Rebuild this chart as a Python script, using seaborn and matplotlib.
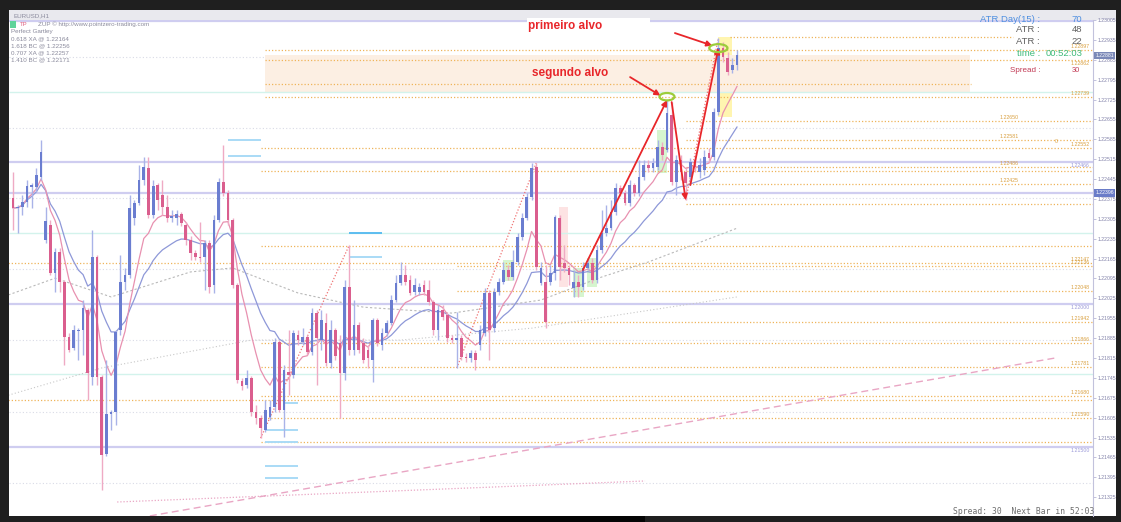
import numpy as np
import pandas as pd
import seaborn as sns
import matplotlib.pyplot as plt
from matplotlib.patches import Rectangle, Ellipse
from matplotlib.transforms import blended_transform_factory

W, H = 1121, 522

# EURUSD H1 candles
opens = [1.22378, 1.22343, 1.22346, 1.22364, 1.22417, 1.22417, 1.22452, 1.22230, 1.22283, 1.22114,
         1.22188, 1.22082, 1.21889, 1.21850, 1.21910, 1.21913, 1.21984, 1.21748, 1.22170, 1.21748,
         1.21477, 1.21618, 1.21625, 1.21913, 1.22082, 1.22107, 1.22308, 1.22360, 1.22441, 1.22484,
         1.22318, 1.22424, 1.22389, 1.22346, 1.22308, 1.22308, 1.22322, 1.22283, 1.22230, 1.22184,
         1.22170, 1.22170, 1.22220, 1.22072, 1.22301, 1.22434, 1.22396, 1.22301, 1.22072, 1.21734,
         1.21720, 1.21744, 1.21625, 1.21604, 1.21561, 1.21607, 1.21642, 1.21871, 1.21632, 1.21766,
         1.21755, 1.21896, 1.21871, 1.21889, 1.21836, 1.21973, 1.21878, 1.21938, 1.21797, 1.21913,
         1.21868, 1.21762, 1.22065, 1.21843, 1.21931, 1.21868, 1.21843, 1.21808, 1.21949, 1.21861,
         1.21903, 1.21938, 1.22019, 1.22079, 1.22107, 1.22089, 1.22047, 1.22047, 1.22072, 1.22054,
         1.22012, 1.21913, 1.21984, 1.21966, 1.21885, 1.21878, 1.21885, 1.21818, 1.21815, 1.21833,
         1.21861, 1.21903, 1.22044, 1.21920, 1.22047, 1.22082, 1.22125, 1.22100, 1.22153, 1.22241,
         1.22308, 1.22382, 1.22487, 1.22079, 1.22082, 1.22082, 1.22114, 1.22308, 1.22149, 1.22132,
         1.22061, 1.22082, 1.22065, 1.22132, 1.22149, 1.22089, 1.22195, 1.22255, 1.22272, 1.22329,
         1.22413, 1.22396, 1.22360, 1.22424, 1.22396, 1.22452, 1.22494, 1.22484, 1.22487, 1.22558,
         1.22547, 1.22670, 1.22434, 1.22512, 1.22470, 1.22452, 1.22512, 1.22470, 1.22477, 1.22537,
         1.22522, 1.22681, 1.22906, 1.22871, 1.22829, 1.22846]
highs = [1.22470, 1.22353, 1.22389, 1.22441, 1.22431, 1.22484, 1.22582, 1.22346, 1.22301, 1.22202,
         1.22202, 1.22089, 1.21903, 1.21931, 1.21920, 1.22019, 1.21991, 1.22265, 1.22177, 1.21755,
         1.21808, 1.21632, 1.21913, 1.22177, 1.22132, 1.22389, 1.22371, 1.22494, 1.22522, 1.22522,
         1.22441, 1.22431, 1.22441, 1.22389, 1.22336, 1.22336, 1.22329, 1.22294, 1.22244, 1.22195,
         1.22294, 1.22230, 1.22230, 1.22318, 1.22448, 1.22565, 1.22406, 1.22308, 1.22079, 1.21744,
         1.21773, 1.21752, 1.21649, 1.21614, 1.21667, 1.21667, 1.21885, 1.21878, 1.21790, 1.21913,
         1.21913, 1.21913, 1.21920, 1.21896, 1.21991, 1.21984, 1.21984, 1.21973, 1.21949, 1.21920,
         1.21896, 1.22089, 1.22213, 1.22019, 1.21942, 1.21885, 1.21861, 1.21956, 1.21956, 1.21920,
         1.21949, 1.22037, 1.22107, 1.22153, 1.22142, 1.22107, 1.22096, 1.22079, 1.22089, 1.22089,
         1.22019, 1.22001, 1.22001, 1.21977, 1.21896, 1.21977, 1.21896, 1.21833, 1.21843, 1.21843,
         1.21931, 1.22061, 1.22054, 1.22061, 1.22096, 1.22153, 1.22142, 1.22195, 1.22255, 1.22325,
         1.22396, 1.22501, 1.22501, 1.22153, 1.22142, 1.22142, 1.22318, 1.22318, 1.22213, 1.22142,
         1.22125, 1.22107, 1.22153, 1.22167, 1.22167, 1.22213, 1.22336, 1.22353, 1.22371, 1.22431,
         1.22424, 1.22406, 1.22441, 1.22431, 1.22512, 1.22512, 1.22512, 1.22519, 1.22582, 1.22575,
         1.22723, 1.22716, 1.22529, 1.22529, 1.22484, 1.22519, 1.22529, 1.22519, 1.22547, 1.22554,
         1.22695, 1.22941, 1.22927, 1.22892, 1.22871, 1.22899]
lows = [1.22265, 1.22255, 1.22318, 1.22346, 1.22343, 1.22399, 1.22441, 1.22220, 1.22107, 1.22047,
        1.22047, 1.21790, 1.21836, 1.21843, 1.21808, 1.21825, 1.21667, 1.21720, 1.21720, 1.21350,
        1.21470, 1.21561, 1.21579, 1.21896, 1.22054, 1.22096, 1.22283, 1.22353, 1.22424, 1.22308,
        1.22308, 1.22336, 1.22318, 1.22294, 1.22294, 1.22283, 1.22279, 1.22213, 1.22160, 1.22160,
        1.22153, 1.22054, 1.22044, 1.22044, 1.22294, 1.22385, 1.22283, 1.22061, 1.21727, 1.21702,
        1.21709, 1.21611, 1.21583, 1.21533, 1.21554, 1.21597, 1.21625, 1.21625, 1.21537, 1.21684,
        1.21744, 1.21861, 1.21861, 1.21825, 1.21825, 1.21720, 1.21843, 1.21787, 1.21780, 1.21808,
        1.21604, 1.21737, 1.21825, 1.21825, 1.21833, 1.21797, 1.21780, 1.21730, 1.21857, 1.21843,
        1.21892, 1.21931, 1.22012, 1.22072, 1.22072, 1.22037, 1.22037, 1.22037, 1.22037, 1.22001,
        1.21896, 1.21878, 1.21949, 1.21871, 1.21868, 1.21780, 1.21808, 1.21801, 1.21801, 1.21773,
        1.21843, 1.21892, 1.21808, 1.21906, 1.22037, 1.22075, 1.22089, 1.22089, 1.22142, 1.22230,
        1.22301, 1.22371, 1.22125, 1.22072, 1.21920, 1.22072, 1.22089, 1.22089, 1.22118, 1.22072,
        1.22030, 1.22030, 1.22054, 1.22125, 1.22079, 1.22079, 1.22184, 1.22244, 1.22265, 1.22318,
        1.22385, 1.22353, 1.22350, 1.22385, 1.22385, 1.22441, 1.22470, 1.22470, 1.22477, 1.22512,
        1.22540, 1.22424, 1.22389, 1.22441, 1.22371, 1.22424, 1.22470, 1.22448, 1.22459, 1.22505,
        1.22512, 1.22670, 1.22857, 1.22811, 1.22818, 1.22829]
closes = [1.22343, 1.22346, 1.22364, 1.22420, 1.22424, 1.22459, 1.22540, 1.22297, 1.22114, 1.22188,
          1.22082, 1.21889, 1.21843, 1.21913, 1.21913, 1.21991, 1.21762, 1.22170, 1.21748, 1.21473,
          1.21618, 1.21625, 1.21906, 1.22082, 1.22107, 1.22343, 1.22360, 1.22441, 1.22487, 1.22318,
          1.22420, 1.22371, 1.22346, 1.22308, 1.22315, 1.22322, 1.22290, 1.22230, 1.22184, 1.22170,
          1.22167, 1.22220, 1.22065, 1.22301, 1.22434, 1.22396, 1.22301, 1.22072, 1.21737, 1.21716,
          1.21744, 1.21625, 1.21604, 1.21568, 1.21632, 1.21642, 1.21871, 1.21632, 1.21773, 1.21755,
          1.21903, 1.21878, 1.21889, 1.21836, 1.21973, 1.21885, 1.21949, 1.21797, 1.21913, 1.21822,
          1.21762, 1.22065, 1.21843, 1.21931, 1.21843, 1.21808, 1.21815, 1.21949, 1.21868, 1.21903,
          1.21938, 1.22019, 1.22079, 1.22107, 1.22082, 1.22044, 1.22072, 1.22065, 1.22047, 1.22012,
          1.21913, 1.21984, 1.21959, 1.21885, 1.21878, 1.21885, 1.21818, 1.21815, 1.21833, 1.21808,
          1.21913, 1.22044, 1.21913, 1.22047, 1.22082, 1.22125, 1.22100, 1.22153, 1.22241, 1.22308,
          1.22382, 1.22484, 1.22135, 1.22132, 1.21942, 1.22114, 1.22311, 1.22135, 1.22132, 1.22107,
          1.22082, 1.22065, 1.22132, 1.22149, 1.22089, 1.22195, 1.22255, 1.22272, 1.22329, 1.22413,
          1.22396, 1.22360, 1.22424, 1.22396, 1.22452, 1.22494, 1.22484, 1.22501, 1.22558, 1.22529,
          1.22677, 1.22434, 1.22512, 1.22470, 1.22431, 1.22505, 1.22487, 1.22494, 1.22522, 1.22519,
          1.22681, 1.22906, 1.22874, 1.22822, 1.22846, 1.22881]

# slow moving averages, read as points (bar index, price)
slow_ma_x = [-1, 9, 21, 38, 47, 61, 75, 94, 113, 126, 136, 155]
slow_ma_y = [1.22037, 1.22096, 1.22030, 1.22118, 1.22132, 1.22044, 1.21994, 1.21973,
             1.22019, 1.22100, 1.22153, 1.22272]
slower_ma_x = [-1, 19, 51, 83, 111, 155]
slower_ma_y = [1.21684, 1.21780, 1.21878, 1.21878, 1.21920, 1.22030]

# horizontal levels
orange_levels = [1.22945, 1.22899, 1.22864, 1.22779, 1.22734, 1.22649, 1.22582, 1.22554,
                 1.22487, 1.22473, 1.22427, 1.22357, 1.22209, 1.22149, 1.22139, 1.22051,
                 1.21942, 1.21868, 1.21783, 1.21681, 1.21667, 1.21604, 1.21519]
orange_start = [153.5, 54, 54, 54, 54, 144, 144, 53, 144, 53, 144, 144, 53, -1, 95, 95,
                95, 53, 53, 53, -1, 53, 53]
orange_end = [214, 232, 232, 205, 232, 232, 232, 232, 232, 232, 232, 232, 232, 232, 232, 232,
              232, 232, 232, 232, 232, 232, 232]
right_labels = ["1.22897", "1.22862", "1.22739", "1.22552", "1.22147", "1.22136", "1.22048",
                "1.21942", "1.21866", "1.21781", "1.21680", "1.21590"]
right_label_y = [1.22899, 1.22864, 1.22734, 1.22554, 1.22149, 1.22139, 1.22051,
                 1.21942, 1.21868, 1.21783, 1.21681, 1.21604]
mid_labels = ["1.22650", "1.22581", "1.22486", "1.22425"]
mid_label_y = [1.22649, 1.22582, 1.22487, 1.22427]
purple_levels = [1.23001, 1.22505, 1.22396, 1.22005, 1.21502]
purple_labels = ["", "1.22466", "", "1.22000", "1.21500"]
cyan_levels = [1.22751, 1.22255, 1.21759]
dot_levels = [1.22624, 1.22378, 1.22128, 1.21878, 1.21625, 1.21375]

# short light-blue level segments (price, from bar, to bar)
seg_price = [1.22582, 1.22526, 1.22255, 1.22170, 1.21656, 1.21561, 1.21519, 1.21435, 1.21392]
seg_from = [46, 46, 72, 72, 58, 54, 54, 54, 54]
seg_to = [53, 53, 79, 79, 61, 61, 61, 61, 61]

# highlighted zones (bar from, bar to, price low, price high, colour)
zones = [(104.9, 107.0, 1.22086, 1.22160, '#d6f5cf'),
         (119.9, 122.2, 1.22030, 1.22132, '#d6f5cf'),
         (122.9, 125.0, 1.22065, 1.22167, '#d6f5cf'),
         (116.9, 118.8, 1.22065, 1.22346, '#fde3e3'),
         (137.9, 140.0, 1.22466, 1.22617, '#d6f5cf'),
         (150.9, 153.9, 1.22663, 1.22945, '#fff5b0'),
         (53.9, 204.9, 1.22751, 1.22881, '#fcefe3')]

ticks = [1.23005 - 0.0007 * k for k in range(25)]

sns.set_theme(style="white")
plt.rcParams['font.family'] = ['Liberation Sans', 'DejaVu Sans']

fig = plt.figure(figsize=(W / 100, H / 100), dpi=100, facecolor='#1f1f1f')


def fx(px):
    return px / W


def fy(py):
    return 1 - py / H


def fig_rect(x0, y0, x1, y1, color, z):
    fig.patches.append(Rectangle((fx(x0), fy(y1)), fx(x1) - fx(x0), fy(y0) - fy(y1),
                                 transform=fig.transFigure, facecolor=color,
                                 edgecolor='none', zorder=z))


# chart panel, title bar, black block at the bottom
fig_rect(9, 10, 1116, 516, 'white', -10)
fig_rect(9, 10, 1116, 20, '#e9e9ee', -9)
fig_rect(480, 513, 645, 522, '#050505', -9)

ax = fig.add_axes([fx(9), fy(516), fx(1093) - fx(9), fy(20) - fy(516)])
ax.set_facecolor('white')
xmin, xmax = -0.86, 231.2
ax.set_xlim(xmin, xmax)
ax.set_ylim(1.212587, 1.230046)

# zones
for x0, x1, p0, p1, c in zones:
    ax.add_patch(Rectangle((x0, p0), x1 - x0, p1 - p0, facecolor=c, edgecolor='none', zorder=0))

# level lines
for p in dot_levels:
    ax.hlines(p, xmin, xmax, colors='#d9dbe6', lw=0.8, linestyles=(0, (1, 2)), zorder=1)
ax.hlines(1.22874, xmin, 54, colors='#d9dbe6', lw=0.8, linestyles=(0, (1, 2)), zorder=1)
for p in cyan_levels:
    ax.hlines(p, xmin, xmax, colors='#d3f3ec', lw=1.0, zorder=1)
for p in purple_levels:
    ax.hlines(p, xmin, xmax, colors='#cfcdf0', lw=1.6, zorder=1)
for p, a, b in zip(orange_levels, orange_start, orange_end):
    ax.hlines(p, a, b, colors='#efb45a', lw=0.9, linestyles=(0, (1, 1.6)), zorder=1)
for p, a, b in zip(seg_price, seg_from, seg_to):
    c = '#5cbdf0' if p == 1.22255 else '#a9dbf6'
    ax.hlines(p, a, b, colors=c, lw=1.4, zorder=2)

tr = blended_transform_factory(ax.transAxes, ax.transData)
for t, p in zip(right_labels, right_label_y):
    below = t == "1.22862"   # sits under the line so it clears the timer text
    ax.text(0.997, p - 0.00004 if below else p + 0.00004, t, transform=tr, ha='right',
            va='top' if below else 'bottom', fontsize=3.8, color='#d9a040')
for t, p in zip(mid_labels, mid_label_y):
    ax.text(211.3, p + 0.00004, t, ha='left', va='bottom', fontsize=3.8, color='#d9a040')
ax.text(223, 1.22568, "0", ha='left', va='bottom', fontsize=3.8, color='#d9a040')
for t, p in zip(purple_labels, purple_levels):
    if t:
        ax.text(0.997, p - 0.00004, t, transform=tr, ha='right', va='top',
                fontsize=3.8, color='#9a98d8')

# trend lines
sns.lineplot(x=[29.3, 223.1], y=[1.21259, 1.21815], ax=ax, color='#e9a6c4', lw=1.0,
             linestyle=(0, (5, 3)), zorder=2)
sns.lineplot(x=[22.3, 135.3], y=[1.21308, 1.21382], ax=ax, color='#e9a6c4', lw=0.9,
             linestyle=(0, (1, 1.5)), zorder=2)

# moving averages
idx = np.arange(len(closes))
close_s = pd.Series(closes)
sns.lineplot(x=slower_ma_x, y=slower_ma_y, ax=ax, color='#c8c8c8', lw=0.8,
             linestyle=(0, (1, 2)), zorder=2)
sns.lineplot(x=slow_ma_x, y=slow_ma_y, ax=ax, color='#b9b9b9', lw=0.8,
             linestyle=(0, (2, 2)), zorder=2)
sns.lineplot(x=idx, y=close_s.ewm(span=20).mean().values, ax=ax, color='#8e98d8', lw=0.9, zorder=3)
sns.lineplot(x=idx, y=close_s.ewm(span=8).mean().values, ax=ax, color='#e891b0', lw=0.9, zorder=3)

# zigzag legs
for a, b in [(53, 72), (95, 112), (144, 151)]:
    ax.plot([a, b], [lows[a], highs[b]], color='#f07272', lw=0.9, linestyle=(0, (1, 1.5)), zorder=3)

# candles
o = np.array(opens)
c = np.array(closes)
up = c >= o
body_col = np.where(up, '#6a7dd0', '#da5e8e')
wick_col = np.where(up, '#a9b3e8', '#efaac4')
ax.vlines(idx, lows, highs, colors=wick_col, lw=1.0, zorder=4)
ax.bar(idx, np.maximum(np.abs(c - o), 0.00002), bottom=np.minimum(o, c), width=0.58,
       color=body_col, edgecolor='none', zorder=5)

# targets
red = '#e8262a'
arrow = dict(arrowstyle='-|>', color=red, lw=1.3, mutation_scale=8, shrinkA=0, shrinkB=0)
ax.annotate('', xy=(140, highs[140]), xytext=(122, lows[123]), arrowprops=arrow, zorder=6)
ax.annotate('', xy=(144, lows[144]), xytext=(141, highs[141]), arrowprops=arrow, zorder=6)
ax.annotate('', xy=(151, closes[151]), xytext=(145, lows[145]), arrowprops=arrow, zorder=6)
ax.add_patch(Ellipse((140, highs[140] + 0.00012), 3.2, 0.00026, fill=False,
                     edgecolor='#9dcc3a', lw=1.6, zorder=7))
ax.add_patch(Ellipse((151, closes[151]), 3.9, 0.00028, fill=False,
                     edgecolor='#9dcc3a', lw=1.6, zorder=7))
ax.annotate('', xy=(149.7, highs[151] - 0.00026), xytext=(141.7, 1.22959), arrowprops=arrow, zorder=6)
ax.annotate('', xy=(138.6, highs[140] + 0.00016), xytext=(132.1, 1.22804), arrowprops=arrow, zorder=6)

# axes styling
ax.set_xticks([])
ax.yaxis.tick_right()
ax.set_yticks(ticks)
ax.set_yticklabels([f"{t:.5f}" for t in ticks])
ax.tick_params(axis='y', length=2, width=0.6, color='#b8b8d8', labelcolor='#8080a8',
               labelsize=3.7, pad=1.5)
for s in ['top', 'left', 'bottom']:
    ax.spines[s].set_visible(False)
ax.spines['right'].set_color('#c2c2dc')
ax.spines['right'].set_linewidth(0.8)
ax.grid(False)
ax.set_xlabel('')
ax.set_ylabel('')

# price boxes on the axis
ax.text(1.002, closes[-1], "1.22881", transform=tr, ha='left', va='center', fontsize=3.7,
        color='white', bbox=dict(facecolor='#7b89b8', edgecolor='none', pad=0.8), zorder=8,
        clip_on=False)
ax.text(1.002, 1.22396, "1.22396", transform=tr, ha='left', va='center', fontsize=3.7,
        color='white', bbox=dict(facecolor='#6a7cc8', edgecolor='none', pad=0.8), zorder=8,
        clip_on=False)

# annotation texts
fig_rect(527, 18, 650, 39, 'white', 5)
fig.text(fx(528), fy(26), "primeiro alvo", color=red, fontsize=8.5, fontweight='bold',
         va='center', ha='left', zorder=6)
fig.text(fx(532), fy(73), "segundo alvo", color=red, fontsize=8.5, fontweight='bold',
         va='center', ha='left', zorder=6)

# header and indicator text
grey = '#8a8a9c'
fig.text(fx(13), fy(15.5), "EURUSD,H1", color=grey, fontsize=4.5, va='center')
fig_rect(10, 21, 16, 28, '#5fd39a', 6)
fig.text(fx(20), fy(24.5), "TP", color='#e06080', fontsize=4.3, va='center')
fig.text(fx(38), fy(24.5), "ZUP © http://www.pointzero-trading.com", color=grey, fontsize=4.5,
         va='center')
gartley = ["Perfect Gartley", "0.618 XA @ 1.22164", "1.618 BC @ 1.22256",
           "0.707 XA @ 1.22257", "1.410 BC @ 1.22171"]
for k, t in enumerate(gartley):
    fig.text(fx(11), fy(31.5 + 7 * k), t, color=grey, fontsize=4.5, va='center')

info = [("ATR Day(15) :", "70", '#4f8fe0', 19), ("ATR :", "48", '#606060', 30),
        ("ATR :", "22", '#606060', 41), ("time :", "00:52:03", '#3dba7a', 53)]
for lab, val, col, y in info:
    fig.text(fx(1040), fy(y), lab, color=col, fontsize=6.8, ha='right', va='center', zorder=9)
    fig.text(fx(1082), fy(y), val, color=col, fontsize=6.8, ha='right', va='center', zorder=9)
fig.text(fx(1040), fy(70), "Spread :", color='#c23a55', fontsize=5.8, ha='right', va='center')
fig.text(fx(1080), fy(70), "30", color='#c23a55', fontsize=5.4, ha='right', va='center')

fig.text(fx(953), fy(512), "Spread: 30  Next Bar in 52:03", color='#6e6e6e', fontsize=5.8,
         family='DejaVu Sans Mono', va='center', ha='left')

fig.savefig('out.png', dpi=100, facecolor=fig.get_facecolor())
